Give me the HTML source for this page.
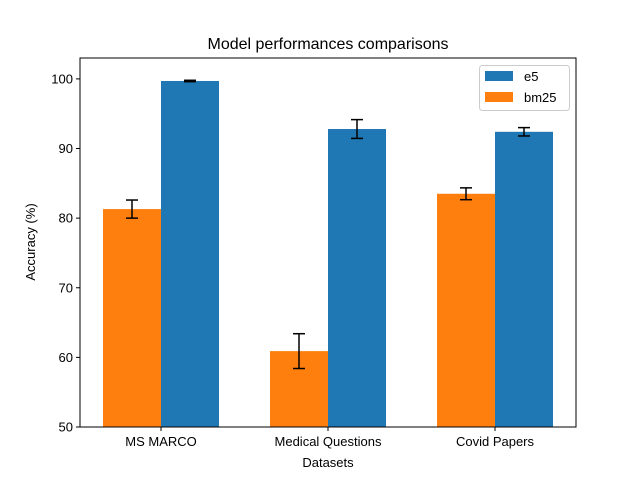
<!DOCTYPE html>
<html><head><meta charset="utf-8"><style>body{margin:0;background:#fff}svg{display:block}text{font-family:"Liberation Sans","DejaVu Sans",sans-serif;fill:#000}</style></head>
<body>
<svg id="chart" width="640" height="480" xmlns="http://www.w3.org/2000/svg"></svg>
<script>
const categories=["MS MARCO","Medical Questions","Covid Papers"];
const bm25Values=[81.3,60.9,83.5];
const bm25Errors=[1.3,2.5,0.85];
const e5Values=[99.7,92.8,92.4];
const e5Errors=[0.1,1.35,0.6];
const yTicks=[50,60,70,80,90,100];
const NS="http://www.w3.org/2000/svg";
const svg=document.getElementById('chart');
const L=80,R=576,T=58,B=427,yMin=50,yMax=103;
const y=v=>B-(v-yMin)/(yMax-yMin)*(B-T);
const step=(R-L)/categories.length*1; // group spacing
const cx=i=>161+i*167;
const bw=58;
function el(t,a,p){const e=document.createElementNS(NS,t);for(const k in a)e.setAttribute(k,a[k]);(p||svg).appendChild(e);return e;}
function txt(s,a){const e=el('text',a);e.textContent=s;return e;}
categories.forEach((c,i)=>{
 const b=el('rect',{x:cx(i)-bw,y:y(bm25Values[i]),width:bw,height:B-y(bm25Values[i]),fill:'#ff7f0e'});
 
 
 const e=el('rect',{x:cx(i),y:y(e5Values[i]),width:bw,height:B-y(e5Values[i]),fill:'#1f77b4'});
 
 
 [[cx(i)-bw/2,bm25Values[i],bm25Errors[i]],[cx(i)+bw/2,e5Values[i],e5Errors[i]]].forEach(([x,v,er],j)=>{
  const g=el('g',{stroke:'#000','stroke-width':1.5});
  
  
  el('line',{x1:x,x2:x,y1:y(v+er),y2:y(v-er)},g);
  el('line',{x1:x-6,x2:x+6,y1:y(v+er),y2:y(v+er)},g);
  el('line',{x1:x-6,x2:x+6,y1:y(v-er),y2:y(v-er)},g);
 });
 el('line',{x1:cx(i),x2:cx(i),y1:B,y2:B+4,stroke:'#000'});
 const t=txt(c,{x:cx(i),y:B+19,'font-size':13,'text-anchor':'middle'});
 
 
});
yTicks.forEach(v=>{
 el('line',{x1:L-4,x2:L,y1:y(v),y2:y(v),stroke:'#000'});
 const t=txt(v,{x:L-7,y:y(v)+4.5,'font-size':13,'text-anchor':'end'});
 
 
});
el('rect',{x:L,y:T,width:R-L,height:B-T,fill:'none',stroke:'#000','stroke-width':1});
</script>
<svg style="position:absolute;left:0;top:0" width="640" height="480" xmlns="http://www.w3.org/2000/svg">
<text x="328" y="49" font-size="16" text-anchor="middle">Model performances comparisons</text>
<text x="328" y="467" font-size="13" text-anchor="middle">Datasets</text>
<text transform="translate(35,242) rotate(-90)" font-size="13" text-anchor="middle">Accuracy (%)</text>
<g>
<rect x="479.5" y="65.5" width="90" height="45" rx="3" fill="#fff" fill-opacity="0.8" stroke="#ccc"/>
<rect x="485" y="71" width="28" height="10" fill="#1f77b4"/>
<text x="524" y="81" font-size="13">e5</text>
<rect x="485" y="92" width="28" height="10" fill="#ff7f0e"/>
<text x="524" y="102" font-size="13">bm25</text>
</g>
</svg>
</body></html>
